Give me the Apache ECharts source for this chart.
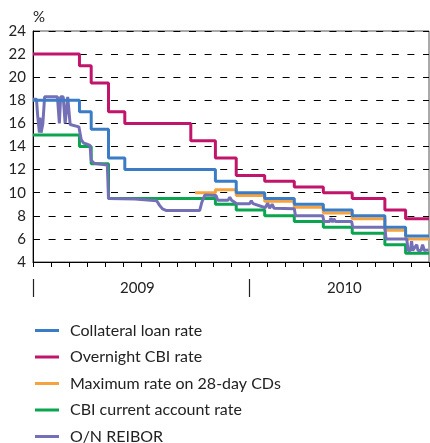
<!DOCTYPE html>
<html><head><meta charset="utf-8">
<script src="https://cdn.jsdelivr.net/npm/echarts@6/dist/echarts.min.js"></script>
<style>html,body{margin:0;padding:0;background:#fff}#c{width:430px;height:443px}</style>
</head><body><div id="c"></div>
<script>
// ---- data (dates, values in %) ----
const seriesNames = ['Collateral loan rate','Overnight CBI rate','Maximum rate on 28-day CDs','CBI current account rate','O/N REIBOR'];
const yearLabels = ['2009','2010'];
const collateralRate = [
  ['2009-01-01',18],['2009-03-19',17],['2009-04-08',15.5],['2009-05-07',13],['2009-06-04',12],
  ['2009-11-05',11],['2009-12-10',10],['2010-01-28',9.5],['2010-03-17',9],['2010-05-05',8.5],
  ['2010-06-23',8],['2010-08-18',7],['2010-09-22',6.25],['2010-11-01',6.25]
];
const overnightRate = [
  ['2009-01-01',22],['2009-03-19',21],['2009-04-08',19.5],['2009-05-07',17],['2009-06-04',16],
  ['2009-09-24',14.5],['2009-11-05',13],['2009-12-10',11.5],['2010-01-28',11],['2010-03-17',10.5],
  ['2010-05-05',10],['2010-06-23',9.5],['2010-08-18',8.5],['2010-09-22',7.75],['2010-11-01',7.75]
];
const cdMaxRate = [
  ['2009-10-01',10],['2009-11-05',10.25],['2009-12-10',9.75],['2010-01-28',9.25],['2010-03-17',8.75],
  ['2010-05-05',8.25],['2010-06-23',7.75],['2010-08-18',6.75],['2010-09-22',6],['2010-11-01',6]
];
const currentAccountRate = [
  ['2009-01-01',15],['2009-03-19',14],['2009-04-08',12.5],['2009-05-07',9.5],['2009-11-05',9],
  ['2009-12-10',8.5],['2010-01-28',8],['2010-03-17',7.5],['2010-05-05',7],['2010-06-23',6.5],
  ['2010-08-18',5.5],['2010-09-22',4.75],['2010-11-01',4.75]
];
const reibor = [
  ['2009-01-01',18.1],['2009-01-07',18.1],['2009-01-09',16.7],['2009-01-12',15.2],['2009-01-13',16.5],
  ['2009-01-15',15.2],['2009-01-18',16.0],['2009-01-21',18.3],['2009-02-11',18.3],['2009-02-14',16.0],
  ['2009-02-16',18.3],['2009-02-20',18.3],['2009-02-23',16.0],['2009-02-27',18.3],['2009-03-01',18.3],
  ['2009-03-03',15.9],['2009-03-18',15.7],['2009-03-22',14.6],['2009-03-26',14.3],['2009-04-01',14.2],
  ['2009-04-06',14.1],['2009-04-08',12.8],['2009-04-13',12.55],['2009-04-28',12.45],['2009-05-05',12.4],
  ['2009-05-07',9.5],['2009-06-21',9.45],['2009-06-24',9.3],['2009-07-28',9.3],['2009-08-02',8.9],
  ['2009-08-07',8.6],['2009-08-14',8.45],['2009-10-09',8.45],['2009-10-13',9.2],['2009-10-18',9.8],
  ['2009-11-06',9.75],['2009-11-09',9.35],['2009-11-26',9.35],['2009-11-29',9.6],['2009-12-02',9.35],
  ['2009-12-11',9.05],['2010-01-02',9.05],['2010-01-05',9.3],['2010-01-08',9.05],['2010-01-29',8.7],
  ['2010-02-02',9.1],['2010-02-05',8.65],['2010-02-09',9.0],['2010-02-12',8.65],['2010-03-17',8.6],
  ['2010-03-19',8.0],['2010-05-04',8.0],['2010-05-06',7.5],['2010-05-16',7.5],['2010-05-18',7.8],
  ['2010-05-21',7.45],['2010-05-23',7.75],['2010-05-26',7.5],['2010-06-22',7.5],['2010-06-24',7.0],
  ['2010-07-31',7.0],['2010-08-01',7.15],['2010-08-03',7.0],['2010-08-18',7.0],['2010-08-20',6.0],
  ['2010-09-24',6.0],['2010-09-26',5.0],['2010-09-30',5.0],['2010-10-02',5.8],['2010-10-04',5.0],
  ['2010-10-07',5.1],['2010-10-11',5.5],['2010-10-13',5.0],['2010-10-18',5.0],['2010-10-21',5.5],
  ['2010-10-24',5.0],['2010-10-31',5.05]
];

// date string -> fractional month index since Jan 2009
function mIdx(d){
  const p = d.split('-').map(Number);
  const dim = new Date(p[0], p[1], 0).getDate();
  return (p[0]-2009)*12 + (p[1]-1) + (p[2]-1)/dim;
}
const conv = arr => arr.map(r => [mIdx(r[0]), r[1]]);

const colors = {blue:'#3b7cc6', magenta:'#c0156a', orange:'#f5a33e', green:'#0aa54e', purple:'#7470b8'};
const FONT = 'Lato';

const chart = echarts.init(document.getElementById('c'), null, {renderer:'canvas'});
chart.setOption({
  animation:false,
  textStyle:{fontFamily:FONT},
  grid:{left:33, right:1, top:31, bottom:181, show:true, borderColor:'#555', borderWidth:1, backgroundColor:'transparent'},
  xAxis:[{
    type:'value', min:0, max:22, interval:1,
    axisLine:{lineStyle:{color:'#000', width:1}},
    axisTick:{show:true, length:5, lineStyle:{color:'#000', width:1}},
    axisLabel:{show:false}, splitLine:{show:false}
  },{
    type:'value', min:0, max:22, position:'bottom', offset:17, gridIndex:0,
    axisLine:{show:false},
    axisTick:{show:true, length:18, customValues:[0,12], lineStyle:{color:'#222', width:1.2}},
    axisLabel:{show:true, customValues:[5.8,17.3], margin:2, color:'#222', fontSize:15, fontFamily:FONT,
      formatter: v => v < 12 ? yearLabels[0] : yearLabels[1]},
    splitLine:{show:false}
  }],
  yAxis:{
    type:'value', min:4, max:24, interval:2,
    name:'%', nameLocation:'end', nameGap:6,
    nameTextStyle:{color:'#222', fontSize:15, align:'left', fontFamily:FONT},
    axisLine:{show:true, lineStyle:{color:'#000', width:1}},
    axisTick:{show:false},
    axisLabel:{color:'#222', fontSize:15, margin:7, fontFamily:FONT},
    splitLine:{show:true, lineStyle:{color:'#000', width:1, type:[7,8.6]}}
  },
  legend:{
    orient:'vertical', left:35, top:322.5, height:150, padding:0,
    itemWidth:24, itemHeight:3, itemGap:10.5,
    icon:'rect',
    data: seriesNames,
    textStyle:{color:'#222', fontSize:16, padding:[0,0,0,6], fontFamily:FONT}
  },
  series:[
    {name:seriesNames[2], type:'line', step:'end', data:conv(cdMaxRate), showSymbol:false, z:2,
      color:colors.orange, lineStyle:{width:3, color:colors.orange}},
    {name:seriesNames[3], type:'line', step:'end', data:conv(currentAccountRate), showSymbol:false, z:3,
      color:colors.green, lineStyle:{width:3, color:colors.green}},
    {name:seriesNames[4], type:'line', data:conv(reibor), showSymbol:false, z:4,
      color:colors.purple, lineStyle:{width:3, color:colors.purple}},
    {name:seriesNames[0], type:'line', step:'end', data:conv(collateralRate), showSymbol:false, z:5,
      color:colors.blue, lineStyle:{width:3, color:colors.blue}},
    {name:seriesNames[1], type:'line', step:'end', data:conv(overnightRate), showSymbol:false, z:6,
      color:colors.magenta, lineStyle:{width:3, color:colors.magenta}}
  ]
});
</script></body></html>
